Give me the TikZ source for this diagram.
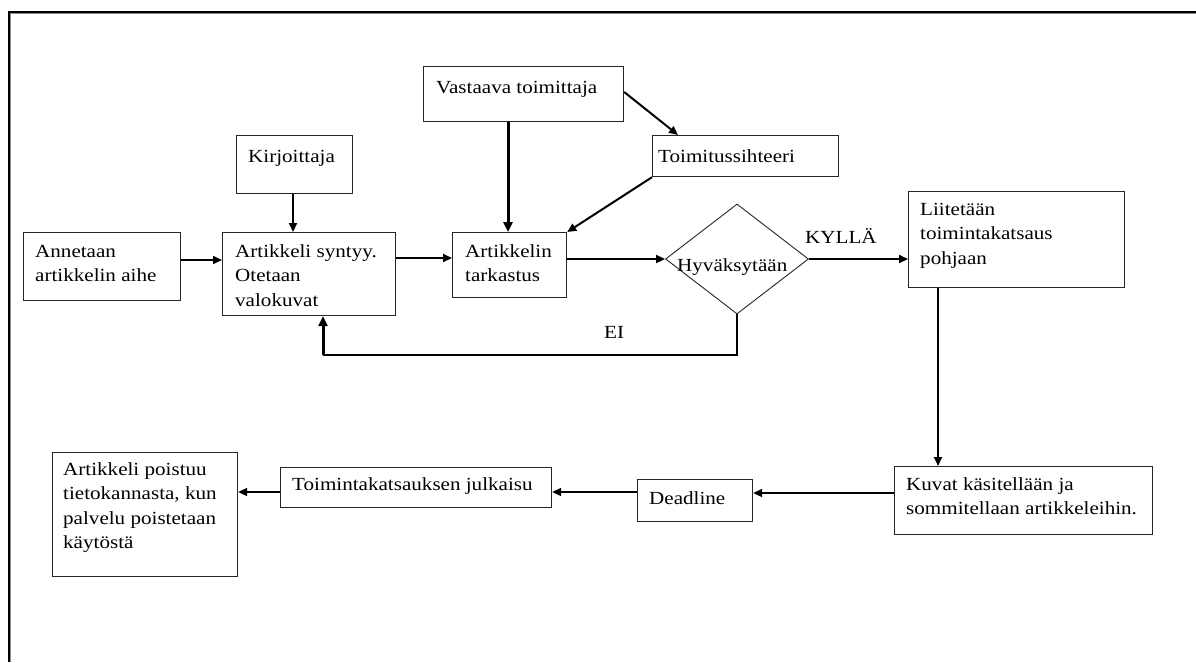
\documentclass[tikz,border=0pt]{standalone}
\usepackage{fontspec}
\setmainfont{Liberation Serif}[FakeStretch=1.14]
\usetikzlibrary{arrows.meta,shapes.geometric,calc}

% left-aligned lines whose reference point is the first baseline
\newcommand\textrows[1]{\vtop{\baselineskip=24.5pt\halign{##\hfil\cr#1\crcr}}}

\begin{document}
\begin{tikzpicture}[x=1pt,y=-1pt,
  box/.style={draw=black!85, line width=1.2pt, rectangle, inner sep=0, anchor=north west},
  lbl/.style={anchor=base west, inner sep=0, font=\fontsize{18.5}{24.5}\selectfont},
  flow/.style={line width=2pt, -{Triangle[length=9pt,width=8pt]}},
  heavyflow/.style={line width=3pt, -{Triangle[length=10pt,width=9pt]}},
  thinline/.style={line width=1.2pt}]
\useasboundingbox (0,0) rectangle (1196,662);

% page frame
\draw[black!45, line width=1pt] (10.6,662) -- (10.6,13.6) -- (1196,13.6);
\draw[black, line width=1.3pt] (9,662) -- (9,12) -- (1196,12);

% boxes
\node[box, minimum width=157pt, minimum height=68pt] (annetaan) at (23,232) {};
\node[box, minimum width=173pt, minimum height=83pt] (artik) at (222,232) {};
\node[box, minimum width=116pt, minimum height=58pt] (kirj) at (236,135) {};
\node[box, minimum width=200pt, minimum height=55pt] (vast) at (423,66) {};
\node[box, minimum width=186pt, minimum height=41pt] (siht) at (652,135) {};
\node[box, minimum width=114pt, minimum height=65pt] (tark) at (452,232) {};
\node[draw=black!85, line width=0.9pt, diamond, minimum width=143pt, minimum height=110pt, inner sep=0] (hyv) at (737,259) {};
\node[box, minimum width=216pt, minimum height=96pt] (liit) at (908,191) {};
\node[box, minimum width=258pt, minimum height=68pt] (kuvat) at (894,466) {};
\node[box, minimum width=115pt, minimum height=42pt] (dead) at (637,479) {};
\node[box, minimum width=271pt, minimum height=40pt] (julk) at (280,467) {};
\node[box, minimum width=185pt, minimum height=124pt] (pois) at (52,452) {};

% texts
\node[lbl] (annetaan-t) at (35,257) {\textrows{Annetaan\cr artikkelin aihe}};
\node[lbl] (artik-t) at (235,257) {\textrows{Artikkeli syntyy.\cr Otetaan\cr valokuvat}};
\node[lbl] (kirj-t) at (248,162) {Kirjoittaja};
\node[lbl] (vast-t) at (436,93) {Vastaava toimittaja};
\node[lbl] (siht-t) at (658,162) {Toimitussihteeri};
\node[lbl] (tark-t) at (465,257) {\textrows{Artikkelin\cr tarkastus}};
\node[lbl] (hyv-t) at (677,271) {Hyväksytään};
\node[lbl] (kylla) at (805,243) {KYLLÄ};
\node[lbl] (ei) at (604,338) {EI};
\node[lbl] (liit-t) at (920,215) {\textrows{Liitetään\cr toimintakatsaus\cr pohjaan}};
\node[lbl] (kuvat-t) at (906,490) {\textrows{Kuvat käsitellään ja\cr sommitellaan artikkeleihin.}};
\node[lbl] (dead-t) at (649,504) {Deadline};
\node[lbl] (julk-t) at (292,490) {Toimintakatsauksen julkaisu};
\node[lbl] (pois-t) at (63,475) {\textrows{Artikkeli poistuu\cr tietokannasta, kun\cr palvelu poistetaan\cr käytöstä}};

% connector end points on the box sides
\coordinate (annetaan-out) at ([yshift=-28pt]annetaan.north east);
\coordinate (kirj-out) at ([xshift=57pt]kirj.south west);
\coordinate (artik-out) at ([yshift=-26pt]artik.north east);
\coordinate (vast-down) at ([xshift=85pt]vast.south west);
\coordinate (vast-side) at ([yshift=-26pt]vast.north east);
\coordinate (siht-in) at ([xshift=26pt]siht.north west);
\coordinate (tark-out) at ([yshift=-27pt]tark.north east);
\coordinate (liit-out) at ([xshift=30pt]liit.south west);
\coordinate (kuvat-out) at ([yshift=-27pt]kuvat.north west);
\coordinate (dead-out) at ([yshift=-13pt]dead.north west);
\coordinate (julk-out) at ([yshift=-25pt]julk.north west);
\coordinate (eibend) at (323,355);

% connectors
\draw[flow] (annetaan-out) -- (annetaan-out -| artik.west);
\draw[flow] (kirj-out) -- (kirj-out |- artik.north);
\draw[flow] (artik-out) -- (artik-out -| tark.west);
\draw[heavyflow] (vast-down) -- (vast-down |- tark.north);
\draw[flow] (vast-side) -- (siht-in);
\draw[flow] (siht.south west) -- (tark.north east);
\draw[flow] (tark-out) -- (hyv.west);
\draw[flow] (hyv.east) -- (hyv.east -| liit.west);
\draw[thinline] (hyv.south) |- (eibend);
\draw[heavyflow] (eibend) -- (eibend |- artik.south);
\draw[flow] (liit-out) -- (liit-out |- kuvat.north);
\draw[flow] (kuvat-out) -- (kuvat-out -| dead.east);
\draw[flow] (dead-out) -- (dead-out -| julk.east);
\draw[flow] (julk-out) -- (julk-out -| pois.east);
\end{tikzpicture}
\end{document}
